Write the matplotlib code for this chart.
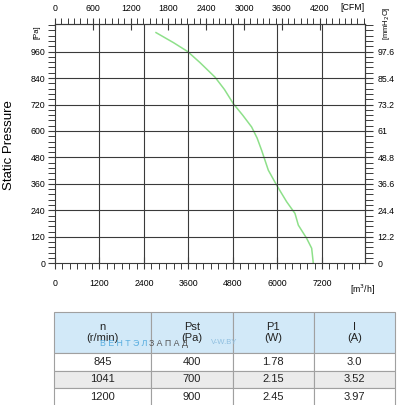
import numpy as np
import matplotlib.pyplot as plt
from matplotlib.ticker import MultipleLocator, FixedLocator

plt.rcParams['font.family'] = ['Liberation Sans', 'DejaVu Sans']

# fan curve, airflow m3/h vs static pressure Pa
flow = [2724, 3200, 3578, 3910, 4315, 4570, 4808, 5060, 5303, 5450, 5573, 5753,
        5978, 6247, 6472, 6562, 6787, 6922, 6966]
pst = [1046, 1000, 960, 910, 844, 788, 724, 672, 618, 568, 512, 422,
       354, 279, 226, 173, 113, 68, 0]

x_ticks = [0, 1200, 2400, 3600, 4800, 6000, 7200]
y_ticks = [0, 120, 240, 360, 480, 600, 720, 840, 960]
cfm_ticks = [0, 600, 1200, 1800, 2400, 3000, 3600, 4200]
mm_ticks = [0, 12.2, 24.4, 36.6, 48.8, 61, 73.2, 85.4, 97.6]
mm_labels = ['0', '12.2', '24.4', '36.6', '48.8', '61', '73.2', '85.4', '97.6']

col_labels = ['n\n(r/min)', 'Pst\n(Pa)', 'P1\n(W)', 'I\n(A)']
rows = [['845', '400', '1.78', '3.0'],
        ['1041', '700', '2.15', '3.52'],
        ['1200', '900', '2.45', '3.97']]

W, H = 399, 405
fig = plt.figure(figsize=(W/100, H/100), dpi=100)
ax = fig.add_axes([55/W, 1-263.3/H, 310/W, 239.3/H])

ax.plot(flow, pst, color='#8ee08a', lw=1.1)
ax.set_xlim(0, 8360)
ax.set_ylim(0, 1085)

gc = '#3a3a3a'
ax.set_xticks(x_ticks)
ax.set_yticks(y_ticks)
ax.xaxis.set_minor_locator(MultipleLocator(200))
ax.yaxis.set_minor_locator(MultipleLocator(24))
for xv in x_ticks[1:]:
    ax.axvline(xv, color=gc, lw=0.8)
for yv in y_ticks[1:]:
    ax.axhline(yv, color=gc, lw=0.8)
for s in ax.spines.values():
    s.set_color(gc)
    s.set_linewidth(0.8)
ax.tick_params(axis='x', which='major', direction='inout', length=8, width=0.8,
               labelsize=6.3, pad=7, color=gc)
ax.tick_params(axis='x', which='minor', direction='out', length=4, width=0.7, color=gc)
ax.tick_params(axis='y', which='major', direction='out', length=5, width=0.8,
               labelsize=6.3, pad=2, color=gc)
ax.tick_params(axis='y', which='minor', direction='out', length=5, width=0.7, color=gc)

k = 1.699
top = ax.secondary_xaxis('top', functions=(lambda v: v / k, lambda v: v * k))
top.set_xticks(cfm_ticks)
top.xaxis.set_minor_locator(MultipleLocator(100))
top.spines['top'].set_color(gc)
top.tick_params(which='major', direction='inout', length=8, width=0.8, labelsize=6.3, pad=4, color=gc)
top.tick_params(which='minor', direction='out', length=4, width=0.7, color=gc)

r = 120 / 12.2
right = ax.secondary_yaxis('right', functions=(lambda v: v / r, lambda v: v * r))
right.yaxis.set_major_locator(FixedLocator(mm_ticks))
right.set_yticklabels(mm_labels)
right.yaxis.set_minor_locator(MultipleLocator(2.44))
right.spines['right'].set_color(gc)
right.tick_params(which='major', direction='out', length=6, width=0.8, labelsize=6.3, pad=3, color=gc)
right.tick_params(which='minor', direction='out', length=6, width=0.7, color=gc)

fig.text(9/W, 1-145/H, 'Static Pressure', rotation=90, ha='center', va='center', fontsize=9.5)
fig.text(37/W, 1-32/H, '[Pa]', rotation=90, ha='center', va='center', fontsize=5.5)
fig.text(386/W, 1-23/H, '[mmH$_2$O]', rotation=90, ha='center', va='center', fontsize=5.5)
fig.text(352/W, 1-8/H, '[CFM]', ha='center', va='center', fontsize=6.3)
fig.text(363/W, 1-290/H, '[m$^3$/h]', ha='center', va='center', fontsize=6.3)

# table
tax = fig.add_axes([54/W, -1/H, 341/W, 94/H])
tax.axis('off')
tbl = tax.table(cellText=rows, colLabels=col_labels, cellLoc='center',
                colWidths=[0.284, 0.241, 0.238, 0.238], bbox=[0, 0, 1, 1])
tbl.auto_set_font_size(False)
hfrac = 41 / 94
rfrac = (1 - hfrac) / 3
for (i, j), cell in tbl.get_celld().items():
    cell.set_edgecolor('#a0a0a0')
    cell.set_linewidth(0.8)
    cell.get_text().set_fontsize(8)
    cell.get_text().set_color('#222222')
    if i == 0:
        cell.set_height(hfrac)
        cell.set_facecolor('#d2e9f8')
    else:
        cell.set_height(rfrac)
        cell.set_facecolor('#ebebeb' if i == 2 else 'white')

fig.text(100/W, 1-343/H, 'В Е Н Т Э Л', color='#5aaee0', fontsize=6.3, va='center')
fig.text(149/W, 1-343/H, 'З А П А Д', color='#555555', fontsize=6.3, va='center')
fig.text(211/W, 1-343/H, 'V-W.BY', color='#8fbfe0', fontsize=5.5, va='center')

fig.savefig('out.png', dpi=100)
